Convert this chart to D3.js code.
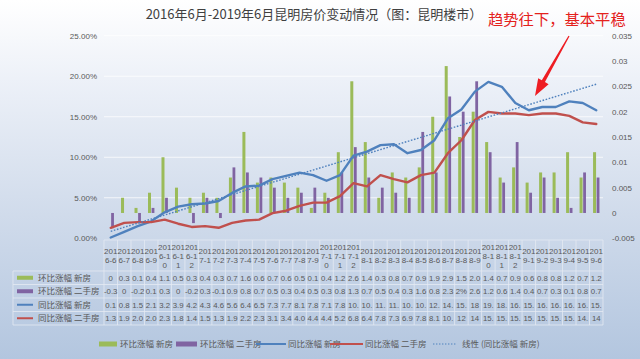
<!DOCTYPE html>
<html><head><meta charset="utf-8">
<script src="https://cdn.jsdelivr.net/npm/d3@7/dist/d3.min.js"></script>
<style>html,body{margin:0;padding:0;overflow:hidden;background:#fff}</style>
</head><body><svg id="c" width="640" height="359"></svg>
<script>
const categories = ["2016-6","2016-7","2016-8","2016-9","2016-10","2016-11","2016-12",
  "2017-1","2017-2","2017-3","2017-4","2017-5","2017-6","2017-7","2017-8","2017-9","2017-10","2017-11","2017-12",
  "2018-1","2018-2","2018-3","2018-4","2018-5","2018-6","2018-7","2018-8","2018-9","2018-10","2018-11","2018-12",
  "2019-1","2019-2","2019-3","2019-4","2019-5","2019-6"];
const seriesNames = ["环比涨幅 新房","环比涨幅 二手房","同比涨幅 新房","同比涨幅 二手房"];
const trendName = "线性 (同比涨幅 新房)";
// month-on-month (%), secondary axis
const momNew = [0,0.3,0.1,0.4,1.1,0.5,0.3,0.4,0.3,0.7,1.6,0.6,0.7,0.6,0.5,0.1,0.4,1.2,2.6,1.4,0.3,0.8,0.7,0.9,1.9,2.9,1.5,2.0,1.4,0.7,0.9,0.6,0.8,0.8,1.2,0.7,1.2];
const momResale = [-0.3,0,-0.2,0.1,0.3,0,-0.2,0.3,-0.1,0.9,0.8,0.7,0.5,0.3,0.4,0.5,0.3,0.8,1.3,0.7,0.5,0.4,0.3,1.6,0.8,2.3,2.0,2.6,1.2,0.6,1.4,0.4,0.7,0.3,0.1,0.8,0.7];
// year-on-year (%), primary axis
const yoyNew = [0.1,0.8,1.5,2.1,3.2,3.9,4.2,4.3,4.6,5.6,6.4,6.5,7.3,7.7,8.1,7.8,7.1,7.8,10.2,10.7,11.5,11.6,10.5,10.9,12.1,14.8,15.9,18.1,19.3,18.7,16.7,15.8,16.2,16.2,16.9,16.7,15.8];
const yoyResale = [1.3,1.9,2.0,2.0,2.3,1.8,1.4,1.5,1.3,1.9,2.2,2.3,3.1,3.4,4.0,4.4,4.4,5.2,6.8,6.4,7.8,7.3,6.9,7.8,8.1,10.5,12.1,14.6,15.6,15.4,15.4,15.2,15.4,15.4,15.1,14.3,14.1];
// data table texts as shown
const tableMomNew = ["0","0.3","0.1","0.4","1.1","0.5","0.3","0.4","0.3","0.7","1.6","0.6","0.7","0.6","0.5","0.1","0.4","1.2","2.6","1.4","0.3","0.8","0.7","0.9","1.9","2.9","1.5","2.0","1.4","0.7","0.9","0.6","0.8","0.8","1.2","0.7","1.2"];
const tableMomResale = ["-0.3","0","-0.2","0.1","0.3","0","-0.2","0.3","-0.1","0.9","0.8","0.7","0.5","0.3","0.4","0.5","0.3","0.8","1.3","0.7","0.5","0.4","0.3","1.6","0.8","2.3","2%","2.6","1.2","0.6","1.4","0.4","0.7","0.3","0.1","0.8","0.7"];
const tableYoyNew = ["0.1","0.8","1.5","2.1","3.2","3.9","4.2","4.3","4.6","5.6","6.4","6.5","7.3","7.7","8.1","7.8","7.1","7.8","10.","10.","11.","11.","10.","10.","12.","14.","15.","18","19.","18.","16.","15.","16.","16.","16.","16.","15."];
const tableYoyResale = ["1.3","1.9","2.0","2.0","2.3","1.8","1.4","1.5","1.3","1.9","2.2","2.3","3.1","3.4","4.0","4.4","4.4","5.2","6.8","6.4","7.8","7.3","6.9","7.8","8.1","10.","12","14","15.","15.","15.","15.","15.","15.","15.","14.","14"];
const leftTicks = [0,5,10,15,20,25];
const rightTicks = [-0.005,0,0.005,0.01,0.015,0.02,0.025,0.03,0.035];
const rightTickLabels = ["-0.005","0","0.005","0.01","0.015","0.02","0.025","0.03","0.035"];
const title = "2016年6月-2019年6月昆明房价变动情况（图：昆明楼市）";
const note = "趋势往下，基本平稳";

const colors = {green:"#9bbb59", purple:"#8064a2", blue:"#4f81bd", red:"#c0504d"};
const svg = d3.select("#c");
const defs = svg.append("defs");
const g1 = defs.append("linearGradient").attr("id","bg").attr("x1",0).attr("y1",0).attr("x2",0).attr("y2",1);
g1.append("stop").attr("offset","0%").attr("stop-color","#ffffff");
g1.append("stop").attr("offset","22%").attr("stop-color","#edf1f8");
g1.append("stop").attr("offset","60%").attr("stop-color","#d0dbeb");
g1.append("stop").attr("offset","100%").attr("stop-color","#b3c6df");
svg.append("rect").attr("width",640).attr("height",359).attr("fill","url(#bg)");

const L = 104, R = 603, T = 35.7, B = 238.3;
const x = d3.scaleBand().domain(categories).range([L, R]);
const bw = x.bandwidth();
const cx = c => x(c) + bw/2;
const yL = d3.scaleLinear().domain([0,25]).range([B,T]);
const yR = d3.scaleLinear().domain([-0.005,0.035]).range([B,T]);

const sans = "'Liberation Sans', Arial, sans-serif";
const cjk = "'Noto Sans CJK SC', sans-serif";

// gridlines
svg.append("g").selectAll("line").data(leftTicks.slice(1)).join("line")
  .attr("x1",L).attr("x2",R).attr("y1",d=>yL(d)).attr("y2",d=>yL(d))
  .attr("stroke","#ffffff").attr("stroke-opacity",0.75).attr("stroke-width",1);

// left axis
const axL = d3.axisLeft(yL).tickValues(leftTicks).tickFormat(d=>d.toFixed(2)+"%").tickSize(0).tickPadding(0);
const gL = svg.append("g").attr("transform",`translate(97,0)`).call(axL);
gL.select(".domain").remove();
gL.selectAll("text").attr("font-family",sans).attr("font-size",8).attr("fill","#595959");
// right axis
const axR = d3.axisRight(yR).tickValues(rightTicks).tickFormat((d,i)=>rightTickLabels[i]).tickSize(0).tickPadding(0);
const gR = svg.append("g").attr("transform",`translate(612,0)`).call(axR);
gR.select(".domain").remove();
gR.selectAll("text").attr("font-family",sans).attr("font-size",8).attr("fill","#595959");

// bars
svg.append("g").selectAll("rect").data(categories).join("rect")
  .attr("x",c=>cx(c)-3.2).attr("width",3)
  .attr("y",(c,i)=>Math.min(yR(momNew[i]/100),yR(0)))
  .attr("height",(c,i)=>Math.abs(yR(momNew[i]/100)-yR(0)))
  .attr("fill",colors.green);
svg.append("g").selectAll("rect").data(categories).join("rect")
  .attr("x",c=>cx(c)+0.4).attr("width",2.8)
  .attr("y",(c,i)=>Math.min(yR(momResale[i]/100),yR(0)))
  .attr("height",(c,i)=>Math.abs(yR(momResale[i]/100)-yR(0)))
  .attr("fill",colors.purple);

// lines
const line = d3.line().x((d,i)=>cx(categories[i])).y(d=>yL(d));
svg.append("path").datum(yoyNew).attr("d",line).attr("fill","none")
  .attr("stroke",colors.blue).attr("stroke-width",2.4).attr("stroke-linejoin","round").attr("stroke-linecap","round");
svg.append("path").datum(yoyResale).attr("d",line).attr("fill","none")
  .attr("stroke",colors.red).attr("stroke-width",2.4).attr("stroke-linejoin","round").attr("stroke-linecap","round");

// linear trend of yoyNew
const n = yoyNew.length;
const mx = d3.mean(d3.range(n)), my = d3.mean(yoyNew);
const slope = d3.sum(d3.range(n), i=>(i-mx)*(yoyNew[i]-my)) / d3.sum(d3.range(n), i=>(i-mx)*(i-mx));
const icpt = my - slope*mx;
svg.append("line")
  .attr("x1",cx(categories[0])).attr("y1",yL(icpt))
  .attr("x2",cx(categories[n-1])).attr("y2",yL(icpt+slope*(n-1)))
  .attr("stroke",colors.blue).attr("stroke-width",1.4).attr("stroke-dasharray","1.6,1.6");

// data table
const tg = svg.append("g");
const hTop = 240, hBot = 271, tBot = 325, labL = 13;
const rowH = (tBot-hBot)/4;
const gridC = "#e4eaf3";
tg.append("g").selectAll("line").data(d3.range(categories.length+1)).join("line")
  .attr("x1",i=> i<categories.length ? x(categories[i]) : R).attr("x2",i=> i<categories.length ? x(categories[i]) : R)
  .attr("y1",hTop).attr("y2",tBot).attr("stroke",gridC).attr("stroke-width",0.8);
tg.append("g").selectAll("line").data(d3.range(5)).join("line")
  .attr("x1",labL).attr("x2",R).attr("y1",i=>hBot+i*rowH).attr("y2",i=>hBot+i*rowH)
  .attr("stroke",gridC).attr("stroke-width",0.8);
tg.append("line").attr("x1",labL).attr("x2",labL).attr("y1",hBot).attr("y2",tBot).attr("stroke",gridC).attr("stroke-width",0.8);
tg.append("line").attr("x1",L).attr("x2",R).attr("y1",hTop).attr("y2",hTop).attr("stroke",gridC).attr("stroke-width",0.8);

// header labels (wrapped)
categories.forEach(c=>{
  const parts = c.match(/.{1,3}/g);
  const lh = 9.3;
  const mid = 256;
  const t = tg.append("text").attr("x",cx(c)).attr("text-anchor","middle")
    .attr("font-family",sans).attr("font-size",8).attr("fill","#595959");
  parts.forEach((p,k)=>{
    t.append("tspan").attr("x",cx(c)).attr("y", mid - (parts.length-1)*lh/2 + k*lh + 2.8).text(p);
  });
});
const tableRows = [tableMomNew, tableMomResale, tableYoyNew, tableYoyResale];
tableRows.forEach((row,r)=>{
  const yc = hBot + rowH*(r+0.5);
  tg.append("g").selectAll("text").data(row).join("text")
    .attr("x",(d,i)=>cx(categories[i])).attr("y",yc+2.8).attr("text-anchor","middle")
    .attr("font-family",sans).attr("font-size",7.8).attr("fill","#595959").text(d=>d);
  if (r<2) tg.append("rect").attr("x",17).attr("y",yc-2).attr("width",16).attr("height",4).attr("fill",[colors.green,colors.purple][r]);
  else tg.append("line").attr("x1",17).attr("x2",33).attr("y1",yc).attr("y2",yc).attr("stroke",[colors.blue,colors.red][r-2]).attr("stroke-width",2);
  tg.append("text").attr("x",38).attr("y",yc+3).attr("font-family",cjk).attr("font-size",8.5).attr("fill","#595959").text(seriesNames[r]);
});

// legend
const ly = 344;
const lg = svg.append("g");
const legendItems = [
  {type:"rect", color:colors.green, x0:99, x1:117, tx:120, label:seriesNames[0]},
  {type:"rect", color:colors.purple, x0:176, x1:197, tx:200, label:seriesNames[1]},
  {type:"line", color:colors.blue, x0:256, x1:286, tx:288, label:seriesNames[2]},
  {type:"line", color:colors.red, x0:330, x1:363, tx:365, label:seriesNames[3]},
  {type:"dot", color:colors.blue, x0:433, x1:457, tx:462, label:trendName}
];
legendItems.forEach(it=>{
  if (it.type==="rect") lg.append("rect").attr("x",it.x0).attr("y",ly-2.5).attr("width",it.x1-it.x0).attr("height",5).attr("fill",it.color);
  else lg.append("line").attr("x1",it.x0).attr("x2",it.x1).attr("y1",ly).attr("y2",ly).attr("stroke",it.color)
    .attr("stroke-width",it.type==="dot"?1.2:2).attr("stroke-dasharray",it.type==="dot"?"1.4,1.6":null);
  lg.append("text").attr("x",it.tx).attr("y",ly+3).attr("font-family",cjk).attr("font-size",8.5).attr("fill","#595959").text(it.label);
});

// title and annotation
svg.append("text").attr("x",314).attr("y",19).attr("text-anchor","middle").attr("font-family",cjk)
  .attr("font-size",13).attr("fill","#404040").text(title);
svg.append("text").attr("x",488).attr("y",25).attr("font-family",cjk).attr("font-size",15.3)
  .attr("fill","#e4211c").text(note);

// red arrow
const s = [569,36], tip = [535,96];
const dx = tip[0]-s[0], dy = tip[1]-s[1], len = Math.hypot(dx,dy);
const ux = dx/len, uy = dy/len, px = -uy, py = ux;
const hl = 17, hw = 6;
const bx = tip[0]-ux*hl, by = tip[1]-uy*hl;
const pts = [
  [s[0]+px*0.6, s[1]+py*0.6],
  [bx+px*1.8, by+py*1.8],
  [bx+px*hw, by+py*hw],
  tip,
  [bx-px*hw, by-py*hw],
  [bx-px*1.8, by-py*1.8],
  [s[0]-px*0.6, s[1]-py*0.6]
];
svg.append("path").attr("d", d3.line()(pts)+"Z").attr("fill","#ee1d23");
</script></body></html>
